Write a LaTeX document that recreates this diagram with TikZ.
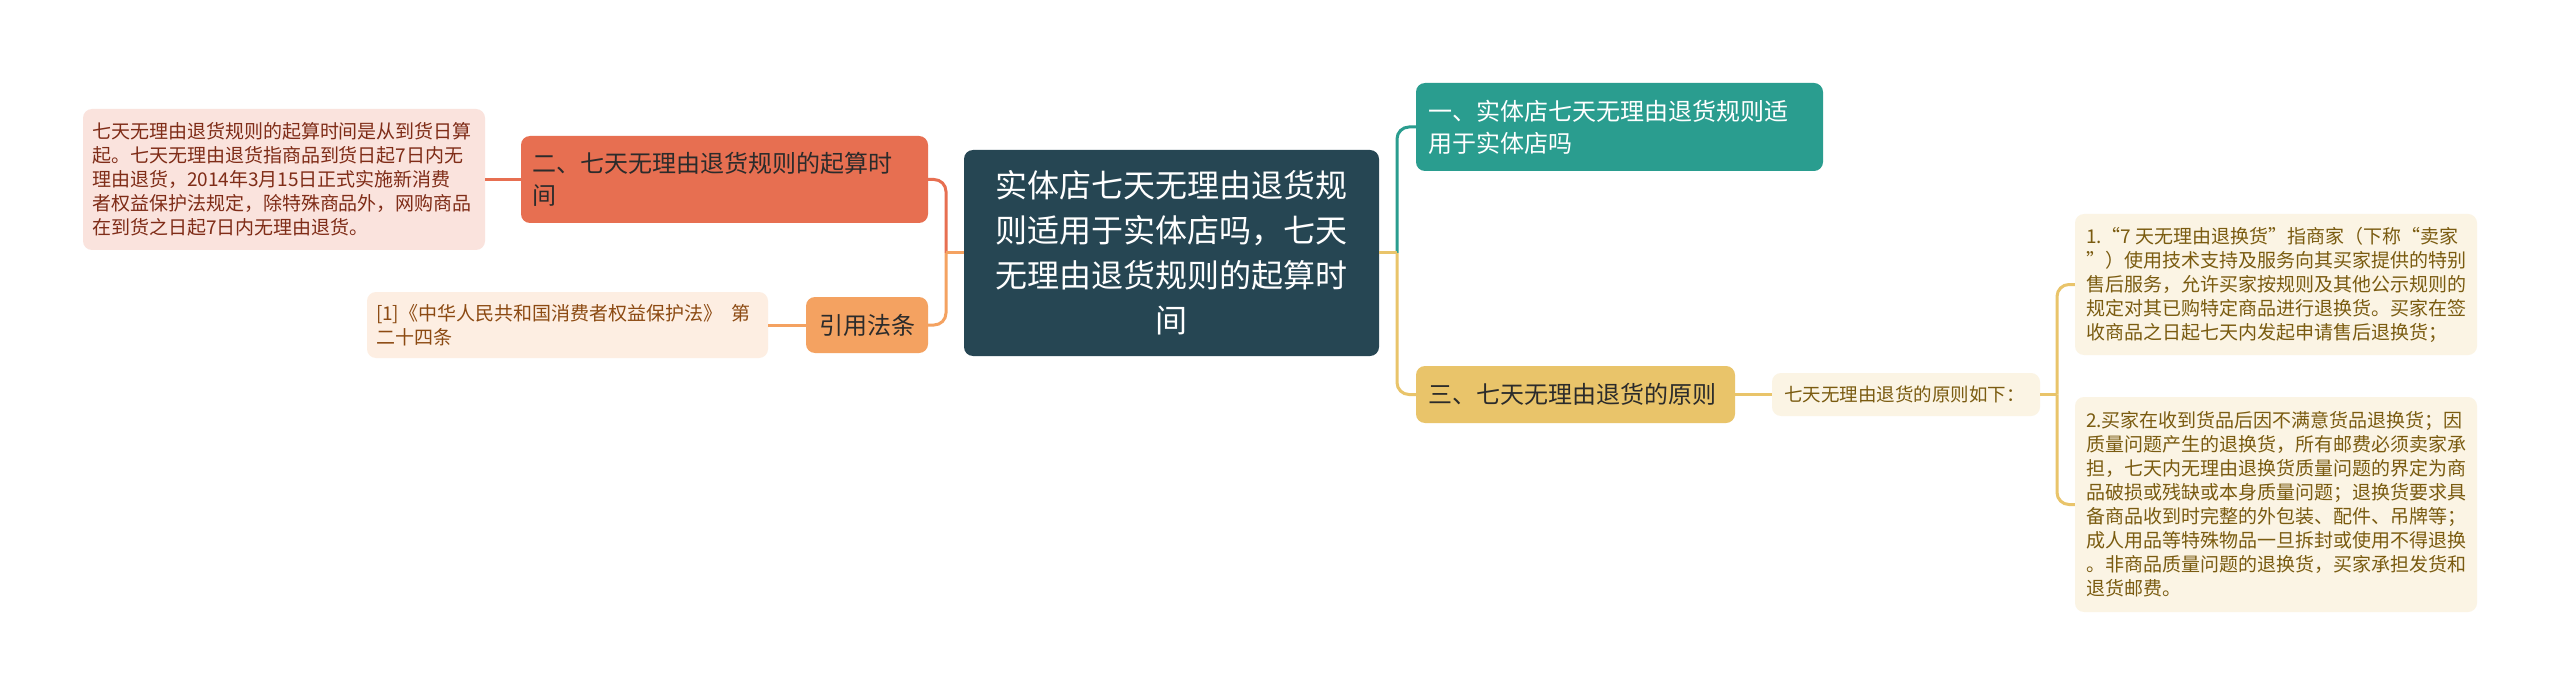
\documentclass[tikz,border=0pt]{standalone}
\usepackage{fontspec}
\setmainfont{Noto Sans CJK SC}
\newfontfamily\fwq[RawFeature=+fwid]{Noto Sans CJK SC}
\definecolor{cRoot}{HTML}{264653}
\definecolor{cTeal}{HTML}{2A9D8F}
\definecolor{cRed}{HTML}{E76F51}
\definecolor{cOrange}{HTML}{F4A261}
\definecolor{cYellow}{HTML}{E9C46A}
\definecolor{lPink}{HTML}{FAE3DD}
\definecolor{lPeach}{HTML}{FDEEE2}
\definecolor{lYellow}{HTML}{FBF4E4}
\definecolor{tPink}{HTML}{7F2C17}
\definecolor{tPeach}{HTML}{8C4A12}
\definecolor{tYellow}{HTML}{7A5B10}
\definecolor{tDark}{HTML}{2B2B2B}
\begin{document}
\begin{tikzpicture}[x=1pt,y=-1pt,
  bx/.style={rectangle, rounded corners=9pt, inner ysep=0pt, align=left, anchor=center},
  bigf/.style={font=\fontsize{32}{45}\selectfont},
  midf/.style={font=\fontsize{24}{32}\selectfont},
  smallf/.style={font=\fontsize{19}{24}\selectfont},
  ln/.style={line width=3pt, rounded corners=12pt}]
\useasboundingbox[fill=white] (0,0) rectangle (2560,695);

% root
\node[bx, bigf, fill=cRoot, text=white, align=center, minimum height=206pt, inner xsep=20pt, text width=375pt] (root) at (1171.5,253)
  {实体店七天无理由退货规\\则适用于实体店吗，七天\\无理由退货规则的起算时\\间};

% left side
\node[bx, midf, fill=cRed, text=tDark, minimum height=87pt, inner xsep=11pt, text width=385pt] (er) at (724.5,179.5)
  {二、七天无理由退货规则的起算时\\间};
\node[bx, smallf, fill=lPink, text=tPink, minimum height=141pt, inner xsep=9pt, text width=384pt] (L1) at (284,179.5)
  {七天无理由退货规则的起算时间是从到货日算\\起。七天无理由退货指商品到货日起7日内无\\理由退货，2014年3月15日正式实施新消费\\者权益保护法规定，除特殊商品外，网购商品\\在到货之日起7日内无理由退货。};
\node[bx, midf, fill=cOrange, text=tDark, align=center, minimum height=56pt, inner xsep=5pt, text width=112pt] (yy) at (867,325)
  {引用法条};
\node[bx, smallf, fill=lPeach, text=tPeach, minimum height=66pt, inner xsep=9pt, text width=383pt] (ref) at (567.5,325)
  {[1]《中华人民共和国消费者权益保护法》\hspace{0.5em}第\\二十四条};

% right side
\node[bx, midf, fill=cTeal, text=white, minimum height=88pt, inner xsep=12pt, text width=383pt] (yi) at (1619.5,127)
  {一、实体店七天无理由退货规则适\\用于实体店吗};
\node[bx, midf, fill=cYellow, text=tDark, minimum height=57pt, inner xsep=12pt, text width=295pt] (san) at (1575.5,394.5)
  {三、七天无理由退货的原则};
\node[bx, font=\fontsize{18.5}{24}\selectfont, fill=lYellow, text=tYellow, minimum height=43pt, inner xsep=12pt, text width=244pt] (qi) at (1906,394.5)
  {七天无理由退货的原则如下：};
\node[bx, smallf, fill=lYellow, text=tYellow, minimum height=141pt, inner xsep=11pt, text width=380pt] (b1) at (2276,284.5)
  {1.{\fwq“}7\hspace{0.2em}天无理由退换货{\fwq”}指商家（下称{\fwq“}卖家\\{\fwq”}）使用技术支持及服务向其买家提供的特别\\售后服务，允许买家按规则及其他公示规则的\\规定对其已购特定商品进行退换货。买家在签\\收商品之日起七天内发起申请售后退换货；};
\node[bx, smallf, fill=lYellow, text=tYellow, minimum height=215pt, inner xsep=11pt, text width=380pt] (b2) at (2276,504.5)
  {2.买家在收到货品后因不满意货品退换货；因\\质量问题产生的退换货，所有邮费必须卖家承\\担，七天内无理由退换货质量问题的界定为商\\品破损或残缺或本身质量问题；退换货要求具\\备商品收到时完整的外包装、配件、吊牌等；\\成人用品等特殊物品一旦拆封或使用不得退换\\。非商品质量问题的退换货，买家承担发货和\\退货邮费。};

% junctions
\coordinate (jl) at (946,253);
\coordinate (jr) at (1397,253);
\coordinate (jy) at (2057,394.5);

% connectors
\draw[ln, cRed] (jl) |- (er.east);
\draw[ln, cOrange] (jl) |- (yy.east);
\draw[ln, cOrange] (root.west) -- (jl);
\draw[ln, cRed] (L1.east) -- (er.west);
\draw[ln, cOrange] (ref.east) -- (yy.west);
\draw[ln, cTeal] (jr) |- (yi.west);
\draw[ln, cYellow] (jr) |- (san.west);
\draw[ln, cYellow] (root.east) -- (jr);
\draw[ln, cYellow] (san.east) -- (qi.west);
\draw[ln, cYellow] (qi.east) -- (jy);
\draw[ln, cYellow] (jy) |- (b1.west);
\draw[ln, cYellow] (jy) |- (b2.west);
\end{tikzpicture}
\end{document}
